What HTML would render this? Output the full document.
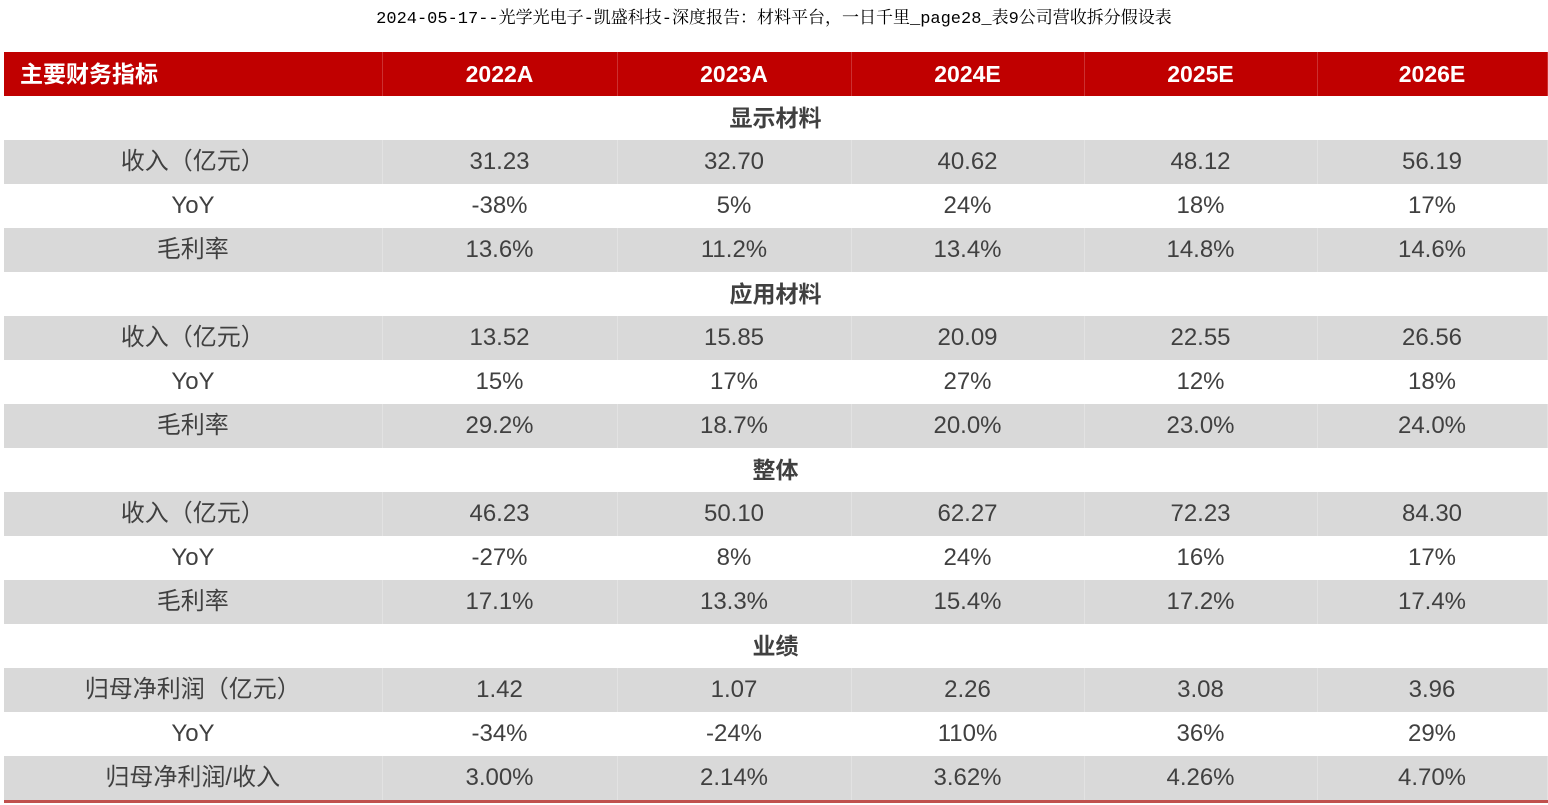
<!DOCTYPE html>
<html><head><meta charset="utf-8"><style>
body{margin:0;width:1548px;height:805px;background:#fff;overflow:hidden;font-family:"Liberation Sans","Noto Sans CJK SC",sans-serif;}
#title{position:absolute;top:8px;left:0;width:1548px;text-align:center;font-family:"Liberation Mono","Noto Serif CJK SC",monospace;font-size:17px;color:#000;line-height:24px;}
table{position:absolute;left:4px;top:52px;border-collapse:collapse;table-layout:fixed;width:1543px;}
td{height:44px;padding:0;text-align:center;font-size:24px;color:#404040;line-height:44px;}
tr.h td{background:#c00000;color:#fff;font-weight:bold;font-size:23px;border-right:1px solid #cc3030;}
tr.h td:first-child{text-align:left;padding-left:16px;}
tr.g td{background:#d9d9d9;border-right:1px solid #e2e2e2;}
tr.s td{font-weight:bold;font-size:23px;}
tr.last td{border-bottom:3px solid #c0504d;}
</style></head><body>
<div id="title">2024-05-17--光学光电子-凯盛科技-深度报告：材料平台，一日千里_page28_表9公司营收拆分假设表</div>
<table>
<colgroup><col style="width:378px"><col style="width:235px"><col style="width:234px"><col style="width:233px"><col style="width:233px"><col style="width:230px"></colgroup>
<tbody id="tb"></tbody></table>
<script>
const years=["2022A","2023A","2024E","2025E","2026E"];
const sections=["显示材料","应用材料","整体","业绩"];
const rowLabels=[["收入（亿元）","YoY","毛利率"],["收入（亿元）","YoY","毛利率"],["收入（亿元）","YoY","毛利率"],["归母净利润（亿元）","YoY","归母净利润/收入"]];
const vals=[
[["31.23","32.70","40.62","48.12","56.19"],["-38%","5%","24%","18%","17%"],["13.6%","11.2%","13.4%","14.8%","14.6%"]],
[["13.52","15.85","20.09","22.55","26.56"],["15%","17%","27%","12%","18%"],["29.2%","18.7%","20.0%","23.0%","24.0%"]],
[["46.23","50.10","62.27","72.23","84.30"],["-27%","8%","24%","16%","17%"],["17.1%","13.3%","15.4%","17.2%","17.4%"]],
[["1.42","1.07","2.26","3.08","3.96"],["-34%","-24%","110%","36%","29%"],["3.00%","2.14%","3.62%","4.26%","4.70%"]]];
const tb=document.getElementById('tb');
function row(cls,cells,name){const tr=document.createElement('tr');tr.className=cls;


const isSec=cls.split(' ').indexOf('s')>=0;
cells.forEach((c,i)=>{const td=document.createElement('td');td.textContent=c;


if(isSec){if(i===0){td.colSpan=6;}else return;}
tr.appendChild(td);});tb.appendChild(tr);}
row('h',["主要财务指标",...years],'header-row');
sections.forEach((s,si)=>{row('s',[s],'section-'+si);
rowLabels[si].forEach((l,ri)=>{let cls=ri%2===0?'g':'w';if(si===3&&ri===2)cls+=' last';
row(cls,[l,...vals[si][ri]],'row-'+si+'-'+ri);});});
</script>
</body></html>
